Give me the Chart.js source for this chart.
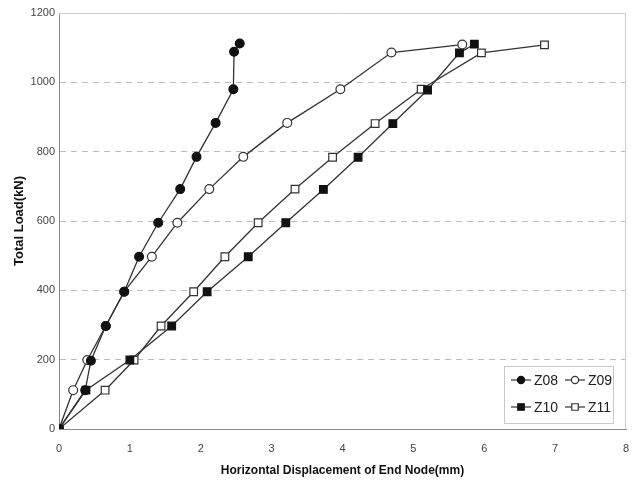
<!DOCTYPE html>
<html lang="en">
<head>
  <meta charset="UTF-8" />
  <title>Load - Displacement</title>
  <script src="https://cdn.jsdelivr.net/npm/chart.js"></script>
  <style>
    body {
      margin: 0;
      background: #ffffff;
    }
    #wrap {
      position: relative;
      width: 639px;
      height: 485px;
    }
  </style>
</head>
<body>
  <div id="wrap">
    <canvas id="loadChart"></canvas>
  </div>

  <script>
    // displacement (mm) / total load (kN)
    const z08X = [0, 0.37, 0.45, 0.66, 0.92, 1.13, 1.40, 1.71, 1.94, 2.21, 2.46, 2.47, 2.55];
    const z08Y = [0, 112, 197, 297, 396, 497, 595, 692, 785, 883, 980, 1088, 1112];

    const z09X = [0, 0.20, 0.40, 0.66, 0.92, 1.31, 1.67, 2.12, 2.60, 3.22, 3.97, 4.69, 5.69];
    const z09Y = [0, 112, 199, 297, 396, 497, 595, 692, 785, 883, 980, 1086, 1109];

    const z10X = [0, 0.38, 1.00, 1.59, 2.09, 2.67, 3.20, 3.73, 4.22, 4.71, 5.20, 5.65, 5.86];
    const z10Y = [0, 112, 199, 297, 396, 497, 595, 691, 784, 881, 978, 1085, 1110];

    const z11X = [0, 0.65, 1.06, 1.44, 1.90, 2.34, 2.81, 3.33, 3.86, 4.46, 5.11, 5.96, 6.85];
    const z11Y = [0, 112, 199, 297, 396, 497, 595, 692, 784, 881, 980, 1085, 1108];

    const seriesNames = ['Z08', 'Z09', 'Z10', 'Z11'];
    const xTicks = [0, 1, 2, 3, 4, 5, 6, 7, 8];
    const yTicks = [0, 200, 400, 600, 800, 1000, 1200];

    const lineColor = '#333';
    const pts = (xs, ys) => xs.map((x, i) => ({ x: x, y: ys[i] }));

    function makeSet(label, xs, ys, style, filled) {
      return {
        label: label,
        data: pts(xs, ys),
        showLine: true,
        borderColor: lineColor,
        borderWidth: 1.3,
        pointStyle: style,
        pointRadius: style === 'rect' ? 5.4 : 4.4,
        pointBorderWidth: 1.2,
        pointBorderColor: filled ? '#111' : '#333',
        pointBackgroundColor: filled ? '#111' : '#fff',
        tension: 0
      };
    }

    const datasets = [
      makeSet(seriesNames[0], z08X, z08Y, 'circle', true),
      makeSet(seriesNames[1], z09X, z09Y, 'circle', false),
      makeSet(seriesNames[2], z10X, z10Y, 'rect', true),
      makeSet(seriesNames[3], z11X, z11Y, 'rect', false)
    ];

    // light frame on top/right of plot area
    const framePlugin = {
      id: 'frame',
      beforeDatasetsDraw(chart) {
        const { ctx, chartArea: a } = chart;
        ctx.save();
        ctx.strokeStyle = '#cfcfcf';
        ctx.lineWidth = 1;
        ctx.beginPath();
        ctx.moveTo(a.left, a.top + 0.5);
        ctx.lineTo(a.right - 0.5, a.top + 0.5);
        ctx.lineTo(a.right - 0.5, a.bottom);
        ctx.stroke();
        ctx.restore();
      }
    };

    // legend box in the lower right corner, two columns
    const boxLegend = {
      id: 'boxLegend',
      afterDraw(chart) {
        const { ctx } = chart;
        const bx = 504, by = 366, bw = 109, bh = 57;
        ctx.save();
        ctx.fillStyle = '#fff';
        ctx.fillRect(bx, by, bw, bh);
        ctx.strokeStyle = '#c8c8c8';
        ctx.lineWidth = 1;
        ctx.strokeRect(bx + 0.5, by + 0.5, bw, bh);

        const cells = [
          { i: 0, x: 511, y: 380 }, { i: 1, x: 565, y: 380 },
          { i: 2, x: 511, y: 407 }, { i: 3, x: 565, y: 407 }
        ];
        cells.forEach(c => {
          const ds = chart.data.datasets[c.i];
          ctx.strokeStyle = lineColor;
          ctx.lineWidth = 1.2;
          ctx.beginPath();
          ctx.moveTo(c.x, c.y);
          ctx.lineTo(c.x + 20, c.y);
          ctx.stroke();
          ctx.fillStyle = ds.pointBackgroundColor;
          ctx.strokeStyle = ds.pointBorderColor;
          Chart.helpers.drawPoint(ctx, {
            pointStyle: ds.pointStyle,
            radius: ds.pointStyle === 'rect' ? 4.6 : 3.6,
            borderWidth: 1
          }, c.x + 10, c.y);
          ctx.fillStyle = '#222';
          ctx.font = '14px "Liberation Sans Narrow", "Liberation Sans", Arial, sans-serif';
          ctx.textBaseline = 'middle';
          ctx.fillText(ds.label, c.x + 23, c.y + 1);
        });
        ctx.restore();
      }
    };

    const ctx = document.getElementById('loadChart').getContext('2d');
    const loadChart = new Chart(ctx, {
      type: 'scatter',
      data: { datasets },
      plugins: [framePlugin, boxLegend],
      options: {
        responsive: true,
        maintainAspectRatio: false,
        animation: false,
        layout: { padding: { top: 13, right: 13, left: 0, bottom: 0 } },
        plugins: {
          legend: { display: false },
          tooltip: { enabled: false }
        },
        scales: {
          x: {
            type: 'linear',
            min: 0,
            max: 8,
            afterBuildTicks: (axis) => { axis.ticks = xTicks.map(v => ({ value: v })); },
            afterFit: (axis) => { axis.height = 56; },
            ticks: {
              color: '#444',
              padding: 5,
              callback: (v) => String(v),
              font: { family: 'Arial, "Liberation Sans", sans-serif', size: 11 }
            },
            grid: { display: false },
            border: { display: true, color: '#8a8a8a', width: 1 },
            title: {
              display: true,
              text: 'Horizontal Displacement of End Node(mm)',
              color: '#111',
              padding: { top: 6, bottom: 7 },
              font: { family: '"Liberation Sans Narrow", Arial, sans-serif', size: 12, weight: 'bold' }
            }
          },
          y: {
            min: 0,
            max: 1200,
            afterBuildTicks: (axis) => { axis.ticks = yTicks.map(v => ({ value: v })); },
            afterFit: (axis) => { axis.width = 59; },
            ticks: {
              color: '#444',
              padding: 4,
              callback: (v) => String(v),
              font: { family: 'Arial, "Liberation Sans", sans-serif', size: 11 }
            },
            grid: {
              drawTicks: false,
              color: (c) => (c.tick && (c.tick.value === 0 || c.tick.value === 1200)) ? 'rgba(0,0,0,0)' : '#bdbdbd',
              lineWidth: 1
            },
            border: { display: true, color: '#8a8a8a', width: 1, dash: [6, 5] },
            title: {
              display: true,
              text: 'Total Load(kN)',
              color: '#111',
              padding: { top: 12, bottom: 4 },
              font: { family: 'Arial, "Liberation Sans", sans-serif', size: 13, weight: 'bold' }
            }
          }
        }
      }
    });
  </script>
</body>
</html>
